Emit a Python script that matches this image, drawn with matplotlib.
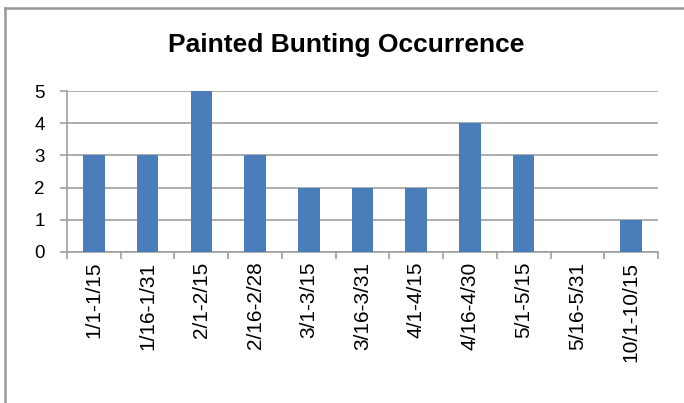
from matplotlib import pyplot as plt
from matplotlib.lines import Line2D
import numpy

plt.rcParams['font.family'] = ['Liberation Sans', 'DejaVu Sans']

PERIODS = ['1/1-1/15', '1/16-1/31', '2/1-2/15', '2/16-2/28', '3/1-3/15',
           '3/16-3/31', '4/1-4/15', '4/16-4/30', '5/1-5/15', '5/16-5/31',
           '10/1-10/15']
OCCURRENCES = [3, 3, 5, 3, 2, 2, 2, 4, 3, 0, 1]
Y_TICKS = [0, 1, 2, 3, 4, 5]

BAR_COLOR = '#4A7EBB'
GRID_COLOR = '#A0A0A0'

fig = plt.figure(figsize=(6.84, 4.03), dpi=100)
ax = fig.add_axes([67 / 684, 1 - 252 / 403, 591 / 684, 161 / 403])

x = numpy.arange(len(PERIODS))
ax.bar(x, OCCURRENCES, width=0.4, color=BAR_COLOR, zorder=3)

ax.set_xlim(-0.5, len(PERIODS) - 0.5)
ax.set_ylim(0, 5)
ax.set_yticks(Y_TICKS)
ax.set_yticklabels([str(v) for v in Y_TICKS], fontsize=13.5)
ax.set_xticks(x)
ax.set_xticklabels(PERIODS, rotation=90, fontsize=15, va='top', ha='center')
ax.tick_params(axis='x', length=0, pad=7)
ax.tick_params(axis='y', length=5, width=1.2, color=GRID_COLOR, pad=11)

# category boundary ticks
ax.set_xticks(numpy.arange(-0.5, len(PERIODS)), minor=True)
ax.tick_params(axis='x', which='minor', length=5, width=1.2, color=GRID_COLOR)

ax.grid(True, axis='y', color=GRID_COLOR, lw=1.2, zorder=0)
for side in ['top', 'right']:
    ax.spines[side].set_visible(False)
for side in ['left', 'bottom']:
    ax.spines[side].set_color(GRID_COLOR)
    ax.spines[side].set_linewidth(1.2)

fig.text(0.506, 1 - 45 / 403, 'Painted Bunting Occurrence', fontsize=19,
         fontweight='bold', ha='center', va='center')

# chart frame (cropped on right and bottom)
fig.add_artist(Line2D([5 / 684, 5 / 684], [0, 1 - 8 / 403],
                      transform=fig.transFigure, color='#999999', lw=1.8))
fig.add_artist(Line2D([5 / 684, 1], [1 - 8 / 403, 1 - 8 / 403],
                      transform=fig.transFigure, color='#999999', lw=1.8))

fig.savefig('out.png', dpi=100)
plt.close()
